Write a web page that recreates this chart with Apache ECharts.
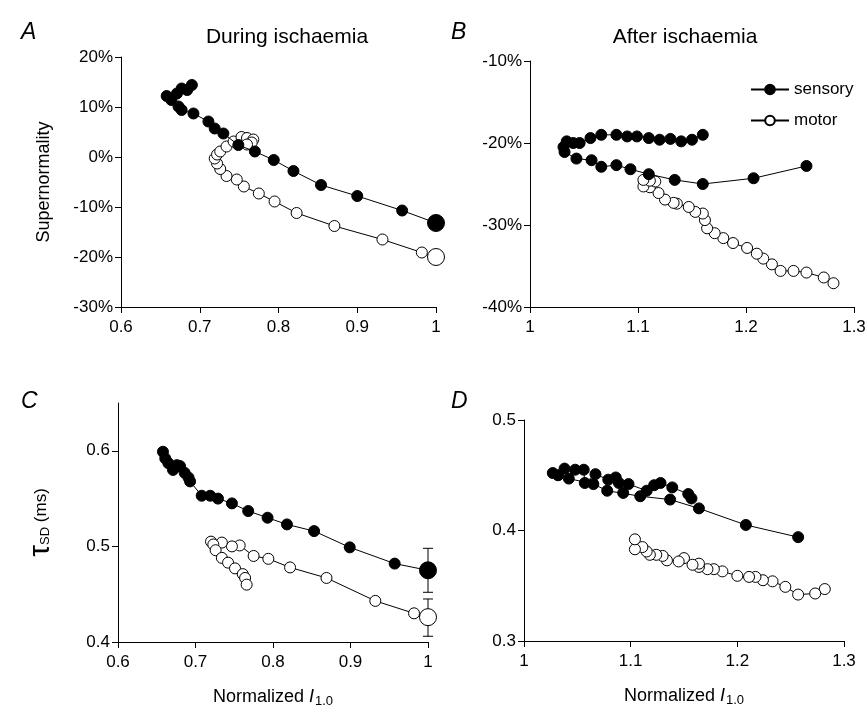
<!DOCTYPE html>
<html><head><meta charset="utf-8">
<script src="https://cdn.jsdelivr.net/npm/echarts@6/dist/echarts.min.js"></script>
<style>html,body{margin:0;padding:0;background:#fff}#c{width:865px;height:708px}</style>
</head><body><div id="c"></div>
<script>
// ---------- Panel A: supernormality during ischaemia ----------
const aSensoryX = [1.0, 0.957, 0.900, 0.854, 0.819, 0.794, 0.770, 0.749, 0.730, 0.719, 0.711, 0.692, 0.677, 0.673, 0.658, 0.664, 0.671, 0.677, 0.684, 0.690];
const aSensoryY = [-13.2, -10.7, -7.8, -5.6, -2.8, -0.6, 1.1, 2.4, 4.7, 5.7, 7.1, 8.7, 9.4, 10.1, 12.2, 11.4, 12.7, 13.7, 13.4, 14.4];
const aMotorX = [1.0, 0.982, 0.932, 0.871, 0.823, 0.795, 0.775, 0.756, 0.747, 0.734, 0.726, 0.722, 0.719, 0.722, 0.726, 0.734, 0.743, 0.753, 0.760, 0.768, 0.766, 0.760];
const aMotorY = [-20.0, -19.1, -16.5, -13.8, -11.2, -8.9, -7.3, -5.9, -4.5, -3.8, -2.4, -1.3, -0.3, 0.5, 1.1, 2.1, 3.1, 4.0, 3.8, 3.5, 2.9, 2.5];
// ---------- Panel B: supernormality after ischaemia ----------
const bSensoryX = [1.256, 1.207, 1.160, 1.134, 1.110, 1.093, 1.080, 1.066, 1.057, 1.043, 1.032, 1.031, 1.034, 1.040, 1.046, 1.056, 1.066, 1.080, 1.090, 1.099, 1.110, 1.120, 1.130, 1.140, 1.150, 1.160];
const bSensoryY = [-22.8, -24.3, -25.0, -24.5, -23.8, -23.2, -22.7, -22.9, -22.1, -21.9, -21.1, -20.5, -19.8, -20.0, -20.0, -19.4, -19.0, -19.0, -19.2, -19.2, -19.4, -19.6, -19.5, -19.8, -19.6, -19.0];
const bMotorX = [1.281, 1.272, 1.256, 1.244, 1.232, 1.224, 1.216, 1.210, 1.201, 1.188, 1.179, 1.171, 1.164, 1.162, 1.160, 1.153, 1.147, 1.136, 1.133, 1.125, 1.119, 1.111, 1.105, 1.116, 1.111, 1.105];
const bMotorY = [-37.1, -36.4, -35.8, -35.6, -35.6, -34.8, -34.1, -33.5, -32.8, -32.2, -31.6, -31.0, -30.4, -29.4, -28.6, -28.4, -27.8, -27.4, -27.3, -26.9, -26.1, -25.4, -25.3, -24.7, -24.6, -24.5];
// ---------- Panel C: strength-duration time constant during ischaemia ----------
const cSensoryX = [1.0, 0.957, 0.899, 0.853, 0.818, 0.793, 0.768, 0.747, 0.729, 0.719, 0.708, 0.693, 0.691, 0.686, 0.680, 0.676, 0.671, 0.665, 0.661, 0.658];
const cSensoryY = [0.475, 0.482, 0.499, 0.516, 0.523, 0.530, 0.537, 0.545, 0.550, 0.553, 0.553, 0.568, 0.572, 0.577, 0.584, 0.585, 0.580, 0.587, 0.592, 0.599];
const cMotorX = [1.0, 0.982, 0.932, 0.869, 0.822, 0.794, 0.775, 0.757, 0.747, 0.734, 0.720, 0.723, 0.726, 0.734, 0.742, 0.751, 0.761, 0.764, 0.766];
const cMotorY = [0.426, 0.430, 0.443, 0.467, 0.478, 0.487, 0.490, 0.501, 0.500, 0.504, 0.505, 0.502, 0.496, 0.488, 0.483, 0.477, 0.471, 0.467, 0.460];
const cErrX = [1.0, 1.0];
const cErrLow = [0.452, 0.406];
const cErrHigh = [0.498, 0.445];
// ---------- Panel D: strength-duration time constant after ischaemia ----------
const dSensoryX = [1.257, 1.208, 1.164, 1.137, 1.109, 1.078, 1.065, 1.042, 1.027, 1.032, 1.038, 1.048, 1.056, 1.057, 1.067, 1.079, 1.086, 1.089, 1.093, 1.098, 1.115, 1.122, 1.128, 1.139, 1.154, 1.157];
const dSensoryY = [0.394, 0.405, 0.420, 0.428, 0.431, 0.436, 0.442, 0.447, 0.452, 0.450, 0.456, 0.455, 0.455, 0.443, 0.451, 0.446, 0.448, 0.443, 0.434, 0.442, 0.436, 0.441, 0.443, 0.439, 0.433, 0.429];
const dMotorX = [1.282, 1.273, 1.257, 1.245, 1.233, 1.224, 1.217, 1.211, 1.200, 1.186, 1.178, 1.172, 1.164, 1.164, 1.158, 1.150, 1.145, 1.134, 1.130, 1.124, 1.118, 1.115, 1.111, 1.104, 1.104];
const dMotorY = [0.347, 0.343, 0.342, 0.349, 0.354, 0.355, 0.358, 0.358, 0.359, 0.363, 0.365, 0.365, 0.367, 0.370, 0.369, 0.375, 0.372, 0.373, 0.377, 0.378, 0.378, 0.381, 0.385, 0.383, 0.392];
// ---------- tick labels ----------
const xTicksDuring = [0.6, 0.7, 0.8, 0.9, 1.0];
const xTicksAfter = [1.0, 1.1, 1.2, 1.3];
const yTicksA = [-30, -20, -10, 0, 10, 20];
const yTicksB = [-40, -30, -20, -10];
const yTicksC = [0.4, 0.5, 0.6];
const yTicksD = [0.3, 0.4, 0.5];
const seriesNames = ['sensory', 'motor'];

const zip = (xs, ys) => xs.map((x, i) => [x, ys[i]]);
const FONT = 'Liberation Sans, Arial, Helvetica, sans-serif';
const fmtNum = v => String(Math.round(v * 10) / 10);
const fmtPct = v => Math.round(v) + '%';

function xAx(grid, ticks) {
  return {
    type: 'value', gridIndex: grid, min: ticks[0], max: ticks[ticks.length - 1], interval: 0.1,
    axisLine: { show: true, onZero: false, lineStyle: { color: '#000', width: 1 } },
    axisTick: { show: true, length: 6, inside: false, lineStyle: { color: '#000' }, customValues: ticks },
    axisLabel: { show: true, color: '#000', fontSize: 17, fontFamily: FONT, margin: 12, formatter: fmtNum, customValues: ticks },
    splitLine: { show: false }
  };
}
function yAx(grid, ticks, max, fmt, interval) {
  return {
    type: 'value', gridIndex: grid, min: ticks[0], max: max, interval: interval,
    axisLine: { show: true, onZero: false, lineStyle: { color: '#000', width: 1 } },
    axisTick: { show: true, length: 6, inside: false, lineStyle: { color: '#000' }, customValues: ticks },
    axisLabel: { show: true, color: '#000', fontSize: 17, fontFamily: FONT, margin: 8, formatter: fmt, customValues: ticks },
    splitLine: { show: false }
  };
}
const bigFirst = (size) => (v, p) => p.dataIndex === 0 ? size : 11;
function filled(name, xi, data, first) {
  return { name: name, type: 'line', xAxisIndex: xi, yAxisIndex: xi, data: data, symbol: 'circle',
    symbolSize: first ? bigFirst(17) : 11, showSymbol: true, z: 3,
    lineStyle: { color: '#000', width: 1 }, itemStyle: { color: '#000', borderColor: '#000', borderWidth: 1 },
    emphasis: { disabled: true }, animation: false };
}
function open(name, xi, data, first) {
  return { name: name, type: 'line', xAxisIndex: xi, yAxisIndex: xi, data: data, symbol: 'circle',
    symbolSize: first ? bigFirst(17) : 11, showSymbol: true, z: 2,
    lineStyle: { color: '#000', width: 1 }, itemStyle: { color: '#fff', borderColor: '#000', borderWidth: 1 },
    emphasis: { disabled: true }, animation: false };
}

const xName = {
  name: '{n|Normalized }{i|I}{s|1.0}', nameLocation: 'middle', nameGap: 44,
  nameTextStyle: { rich: {
    n: { fontSize: 18, fontFamily: FONT, color: '#000' },
    i: { fontSize: 18, fontFamily: FONT, fontStyle: 'italic', color: '#000' },
    s: { fontSize: 13, fontFamily: FONT, color: '#000', padding: [9, 0, 0, 1] }
  } }
};

const chart = echarts.init(document.getElementById('c'), null, { renderer: 'canvas' });
const xAxes = [xAx(0, xTicksDuring), xAx(1, xTicksAfter), Object.assign(xAx(2, xTicksDuring), xName), Object.assign(xAx(3, xTicksAfter), xName)];
const yAxes = [
  Object.assign(yAx(0, yTicksA, 20, fmtPct, 10), { name: 'Supernormality', nameLocation: 'middle', nameGap: 68, nameRotate: 90,
    nameTextStyle: { fontSize: 18, fontFamily: FONT, color: '#000' } }),
  yAx(1, yTicksB, -10, fmtPct, 10),
  Object.assign(yAx(2, yTicksC, 0.65, fmtNum, 0.1), { name: '{t|τ}{s|SD}{m| (ms)}', nameLocation: 'middle', nameGap: 62, nameRotate: 90,
    nameTextStyle: { rich: {
      t: { fontSize: 30, fontFamily: FONT, color: '#000' },
      s: { fontSize: 13, fontFamily: FONT, color: '#000', padding: [8, 0, 0, 0] },
      m: { fontSize: 17, fontFamily: FONT, color: '#000' }
    } } }),
  yAx(3, yTicksD, 0.5, fmtNum, 0.1)
];

const option = {
  animation: false,
  backgroundColor: '#fff',
  textStyle: { fontFamily: FONT },
  grid: [
    { left: 121, top: 57, width: 315, height: 250, outerBoundsMode: 'none', containLabel: false },
    { left: 530, top: 61, width: 324, height: 246, outerBoundsMode: 'none', containLabel: false },
    { left: 118, top: 403, width: 310, height: 239, outerBoundsMode: 'none', containLabel: false },
    { left: 524, top: 420, width: 320, height: 221, outerBoundsMode: 'none', containLabel: false }
  ],
  xAxis: xAxes,
  yAxis: yAxes,
  legend: {
    show: true, data: seriesNames, orient: 'vertical', left: 745, top: 76, itemGap: 14,
    itemWidth: 38, itemHeight: 12, selectedMode: false,
    textStyle: { fontSize: 17, fontFamily: FONT, color: '#000' }
  },
  title: [
    { text: 'During ischaemia', left: 282, top: 22, textAlign: 'center', textStyle: { fontSize: 21, fontWeight: 'normal', fontFamily: FONT, color: '#000' } },
    { text: 'After ischaemia', left: 680, top: 22, textAlign: 'center', textStyle: { fontSize: 21, fontWeight: 'normal', fontFamily: FONT, color: '#000' } },
    { text: 'A', left: 16, top: 16, textStyle: { fontSize: 23, fontStyle: 'italic', fontWeight: 'normal', fontFamily: FONT, color: '#000' } },
    { text: 'B', left: 446, top: 16, textStyle: { fontSize: 23, fontStyle: 'italic', fontWeight: 'normal', fontFamily: FONT, color: '#000' } },
    { text: 'C', left: 16, top: 385, textStyle: { fontSize: 23, fontStyle: 'italic', fontWeight: 'normal', fontFamily: FONT, color: '#000' } },
    { text: 'D', left: 446, top: 385, textStyle: { fontSize: 23, fontStyle: 'italic', fontWeight: 'normal', fontFamily: FONT, color: '#000' } }
  ],
  series: [
    filled('sensory', 0, zip(aSensoryX, aSensoryY), true),
    open('motor', 0, zip(aMotorX, aMotorY), true),
    filled('sensory', 1, zip(bSensoryX, bSensoryY), false),
    open('motor', 1, zip(bMotorX, bMotorY), false),
    {
      type: 'custom', xAxisIndex: 2, yAxisIndex: 2, z: 1, silent: true,
      data: cErrX.map((x, i) => [x, cErrLow[i], cErrHigh[i]]),
      encode: { x: 0, y: [1, 2] },
      renderItem: function (params, api) {
        const lo = api.coord([api.value(0), api.value(1)]);
        const hi = api.coord([api.value(0), api.value(2)]);
        const w = 5;
        const st = { stroke: '#000', lineWidth: 1 };
        return { type: 'group', children: [
          { type: 'line', shape: { x1: lo[0], y1: lo[1], x2: hi[0], y2: hi[1] }, style: st },
          { type: 'line', shape: { x1: lo[0] - w, y1: lo[1], x2: lo[0] + w, y2: lo[1] }, style: st },
          { type: 'line', shape: { x1: hi[0] - w, y1: hi[1], x2: hi[0] + w, y2: hi[1] }, style: st }
        ] };
      }
    },
    filled('sensory', 2, zip(cSensoryX, cSensoryY), true),
    open('motor', 2, zip(cMotorX, cMotorY), true),
    filled('sensory', 3, zip(dSensoryX, dSensoryY), false),
    open('motor', 3, zip(dMotorX, dMotorY), false)
  ]
};
chart.setOption(option);
</script></body></html>
